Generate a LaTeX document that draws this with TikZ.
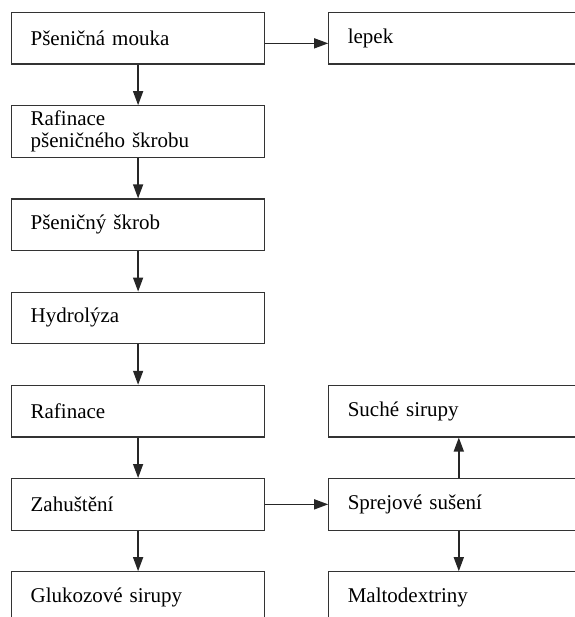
\documentclass[tikz,border=0pt]{standalone}
\usepackage{fontspec}
\setmainfont{Liberation Serif}
\usetikzlibrary{positioning,arrows.meta}

\tikzset{
  box/.style={draw=black!80, line width=1.2pt, minimum height=51.5pt,
    inner xsep=19pt, inner ysep=3pt, align=left,
    font=\fontsize{21}{22}\selectfont},
  leftbox/.style={box, text width=215pt},
  rightbox/.style={box, text width=222pt},
  flow/.style={-{Triangle[length=14pt,width=10pt]}, line width=1.4pt, black!85}
}

\begin{document}
\begin{tikzpicture}[node distance=40.5pt]
    \useasboundingbox (0pt,0pt) rectangle (574pt,-617pt);
      %main line, from flour down to the syrups
    \node[leftbox, anchor=north west] (mouka) at (11pt,-12pt) {Pšeničná mouka};
    \node[leftbox, below=of mouka] (rafskrob) {Rafinace\\pšeničného škrobu};
    \node[leftbox, below=of rafskrob] (skrob) {Pšeničný škrob};
    \node[leftbox, below=of skrob] (hydro) {Hydrolýza};
    \node[leftbox, below=of hydro] (rafinace) {Rafinace};
    \node[leftbox, below=of rafinace] (zahust) {Zahuštění};
    \node[leftbox, below=of zahust] (glukoza) {Glukozové sirupy};
      %side products on the right
    \node[rightbox, right=63pt of mouka] (lepek) {lepek};
    \node[rightbox, right=63pt of zahust] (sprej) {Sprejové sušení};
    \node[rightbox, above=of sprej] (suche) {Suché sirupy};
    \node[rightbox, below=of sprej] (malto) {Maltodextriny};

    \draw[flow] (mouka) -- (rafskrob);
    \draw[flow] (rafskrob) -- (skrob);
    \draw[flow] (skrob) -- (hydro);
    \draw[flow] (hydro) -- (rafinace);
    \draw[flow] (rafinace) -- (zahust);
    \draw[flow] (zahust) -- (glukoza);
    \draw[flow] ([yshift=-5pt]mouka.east) -- ([yshift=-5pt]lepek.west);
    \draw[flow] (zahust) -- (sprej);
    \draw[flow] (sprej) -- (suche);
    \draw[flow] (sprej) -- (malto);
\end{tikzpicture}
\end{document}
